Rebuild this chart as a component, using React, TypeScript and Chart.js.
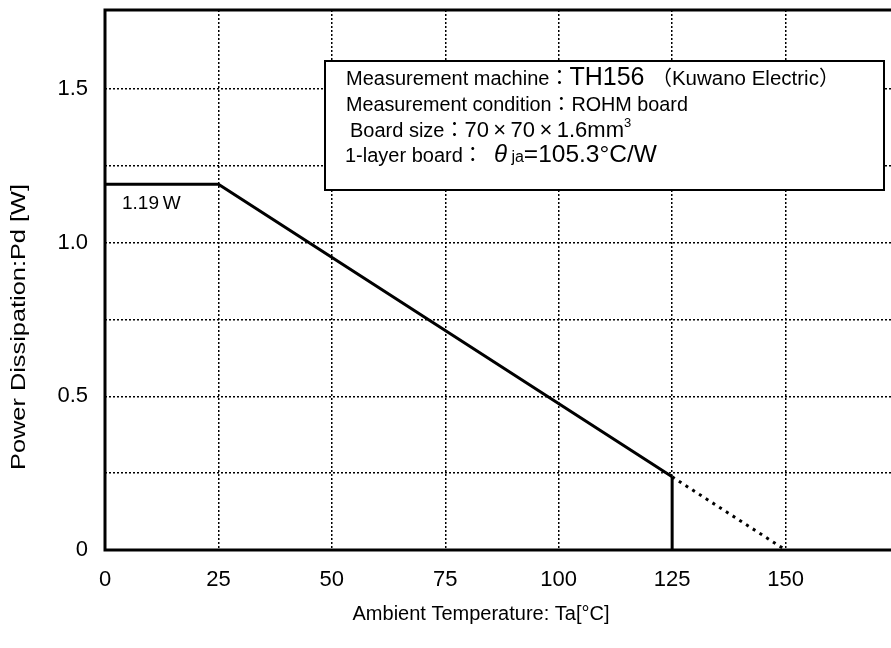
import { useEffect, useRef } from 'react';
import { Chart, registerables } from 'chart.js';

Chart.register(...registerables);

// ---- data ----
const deratingTemps = [0, 25, 125];
const deratingPower = [1.19, 1.19, 0.238];
const cutoffTemps = [125, 125];
const cutoffPower = [0.238, 0];
const extensionTemps = [125, 150];
const extensionPower = [0.238, 0];
const xTickValues = [0, 25, 50, 75, 100, 125, 150, 175];
const yTickValues = [0, 0.25, 0.5, 0.75, 1.0, 1.25, 1.5];
const yTickLabels: Record<string, string> = { '0': '0', '0.5': '0.5', '1': '1.0', '1.5': '1.5' };
const xRange = [0, 175];
const yRange = [0, 1.757];
const plateauLabel = '1.19\u2009W';
const xTitle = 'Ambient Temperature: Ta[°C]';
const yTitle = 'Power Dissipation:Pd [W]';

const FONT = '"Liberation Sans", Arial, "Noto Sans CJK JP", sans-serif';

type Run = { t: string; s: number; it?: boolean; dy?: number };
const infoLines: Run[][] = [
  [{ t: 'Measurement machine：', s: 20 }, { t: 'TH156 ', s: 25 }, { t: '（Kuwano Electric）', s: 20.5 }],
  [{ t: 'Measurement condition：ROHM board', s: 19.8 }],
  [{ t: 'Board size：', s: 20 }, { t: '70\u2009×\u200970\u2009×\u20091.6mm', s: 22 }, { t: '3', s: 13, dy: -10 }],
  [{ t: '1-layer board：  ', s: 20 }, { t: 'θ', s: 24, it: true }, { t: ' ja', s: 16 }, { t: '=105.3°C/W', s: 24.5 }],
];

const overlayPlugin = {
  id: 'overlay',
  afterDatasetsDraw(chart: any) {
    const ctx: CanvasRenderingContext2D = chart.ctx;
    const a = chart.chartArea;
    ctx.save();
    // frame
    ctx.strokeStyle = '#000';
    ctx.lineWidth = 3;
    ctx.strokeRect(a.left, a.top, a.right - a.left, a.bottom - a.top);

    // info box
    const bx = 325, by = 61, bw = 559, bh = 129;
    ctx.fillStyle = '#fff';
    ctx.fillRect(bx, by, bw, bh);
    ctx.lineWidth = 2;
    ctx.strokeRect(bx, by, bw, bh);
    ctx.fillStyle = '#000';
    ctx.textBaseline = 'alphabetic';
    ctx.textAlign = 'left';
    const baselines = [85, 111, 137, 162];
    const starts = [346, 346, 350, 345];
    infoLines.forEach((runs, i) => {
      let x = starts[i];
      runs.forEach((r) => {
        ctx.font = `${r.it ? 'italic ' : ''}${r.s}px ${FONT}`;
        ctx.fillText(r.t, x, baselines[i] + (r.dy || 0));
        x += ctx.measureText(r.t).width;
      });
    });

    // plateau label
    ctx.font = `19px ${FONT}`;
    ctx.fillText(plateauLabel, 122, 209);

    // axis titles
    ctx.font = `20px ${FONT}`;
    ctx.textAlign = 'center';
    ctx.textBaseline = 'middle';
    ctx.fillText(xTitle, 481, 614);
    const w = ctx.measureText(yTitle).width;
    ctx.translate(19, 327);
    ctx.rotate(-Math.PI / 2);
    ctx.scale(286 / w, 1);
    ctx.fillText(yTitle, 0, 0);
    ctx.restore();
  },
};

export default function App() {
  const ref = useRef<HTMLCanvasElement | null>(null);
  useEffect(() => {
    if (!ref.current) return;
    const toPts = (xs: number[], ys: number[]) => xs.map((x, i) => ({ x, y: ys[i] }));
    const chart = new Chart(ref.current, {
      type: 'line',
      data: {
        datasets: [
          {
            data: toPts(deratingTemps, deratingPower),
            borderColor: '#000',
            borderWidth: 3,
            pointRadius: 0,
            fill: false,
            tension: 0,
          },
          {
            data: toPts(cutoffTemps, cutoffPower),
            borderColor: '#000',
            borderWidth: 3,
            pointRadius: 0,
            fill: false,
          },
          {
            data: toPts(extensionTemps, extensionPower),
            borderColor: '#000',
            borderWidth: 3,
            borderDash: [3, 5],
            pointRadius: 0,
            fill: false,
          },
        ],
      },
      options: {
        animation: false,
        responsive: false,
        devicePixelRatio: 1,
        layout: { padding: { left: 0, top: 10, right: 11, bottom: 0 } },
        plugins: { legend: { display: false }, tooltip: { enabled: false } },
        scales: {
          x: {
            type: 'linear',
            min: xRange[0],
            max: xRange[1],
            afterBuildTicks: (s: any) => {
              s.ticks = xTickValues.map((v) => ({ value: v }));
            },
            afterFit: (s: any) => {
              s.height = 98;
              s.paddingLeft = 0;
              s.paddingRight = 0;
            },
            ticks: {
              color: '#000',
              font: { family: FONT, size: 22 },
              padding: 17,
              maxRotation: 0,
              autoSkip: false,
              callback: (v: any) => (v === 175 ? '' : String(v)),
            },
            grid: { color: '#000', lineWidth: 1.5, drawTicks: false },
            border: { display: false, dash: [2, 2] },
          },
          y: {
            type: 'linear',
            min: yRange[0],
            max: yRange[1],
            afterBuildTicks: (s: any) => {
              s.ticks = yTickValues.map((v) => ({ value: v }));
            },
            afterFit: (s: any) => {
              s.width = 105;
              s.paddingTop = 0;
              s.paddingBottom = 0;
            },
            ticks: {
              color: '#000',
              font: { family: FONT, size: 22 },
              padding: 17,
              autoSkip: false,
              callback: (v: any) => yTickLabels[String(v)] ?? '',
            },
            grid: { color: '#000', lineWidth: 1.5, drawTicks: false },
            border: { display: false, dash: [2, 2] },
          },
        },
      },
      plugins: [overlayPlugin],
    });
    return () => chart.destroy();
  }, []);
  return (
    <div
      style={{
        position: 'fixed',
        left: 0,
        top: 0,
        width: 891,
        height: 648,
        overflow: 'hidden',
        background: '#fff',
      }}
    >
      <canvas ref={ref} width={910} height={648} style={{ display: 'block' }} />
    </div>
  );
}
